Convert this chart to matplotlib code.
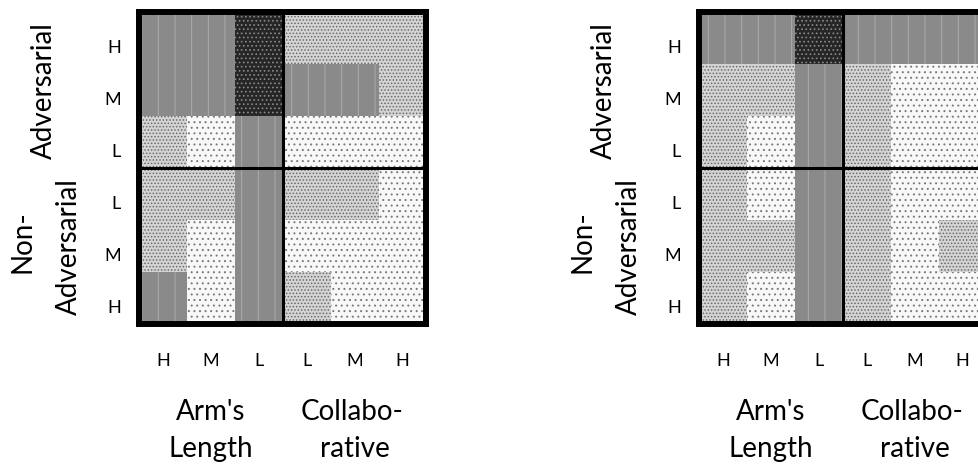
import numpy as np
import matplotlib
matplotlib.use('Agg')
import matplotlib.pyplot as plt
import matplotlib.transforms as mtransforms

plt.rcParams['font.family'] = ['Lato', 'DejaVu Sans']
plt.rcParams['hatch.linewidth'] = 0.7

# Niveis de cada celula (0 = pontos esparsos, 1 = pontos densos,
# 2 = cinza medio, 3 = escuro). Linhas de cima para baixo.
row_labels = ['H', 'M', 'L', 'L', 'M', 'H']
col_labels = ['H', 'M', 'L', 'L', 'M', 'H']

levels_left = [
    [2, 2, 3, 1, 1, 1],
    [2, 2, 3, 2, 2, 1],
    [1, 0, 2, 0, 0, 0],
    [1, 1, 2, 1, 1, 0],
    [1, 0, 2, 0, 0, 0],
    [2, 0, 2, 1, 0, 0],
]

levels_right = [
    [2, 2, 3, 2, 2, 2],
    [1, 1, 2, 1, 0, 0],
    [1, 0, 2, 1, 0, 0],
    [1, 0, 2, 1, 0, 0],
    [1, 1, 2, 1, 0, 1],
    [1, 0, 2, 1, 0, 0],
]

# Estilo de preenchimento por nivel: (cor de fundo, hachura, cor da hachura)
styles = {
    0: ('#f8f8f8', '...', '#7a7a7a'),
    1: ('#d4d4d4', '.....', '#6a6a6a'),
    2: ('#8a8a8a', '|', '#adadad'),
    3: ('#262626', '....', '#8a8a8a'),
}

W, H = 979, 467
fig = plt.figure(figsize=(W / 100, H / 100), dpi=100)


def draw_panel(left_px, levels):
    ax = fig.add_axes([left_px / W, (H - 323.5) / H, 287.5 / W, 312 / H])
    for r, row in enumerate(levels):
        for c, lev in enumerate(row):
            face, hatch, hcol = styles[lev]
            ax.bar(c, 1, bottom=r, width=1, align='edge', color=face,
                   hatch=hatch, edgecolor=hcol, linewidth=0)
    ax.set_xlim(0, 6)
    ax.set_ylim(6, 0)
    # linhas divisorias
    ax.axvline(3, color='black', lw=2.2)
    ax.axhline(3, color='black', lw=2.2)
    for s in ax.spines.values():
        s.set_linewidth(4.3)
        s.set_zorder(5)
    ax.set_xticks(np.arange(6) + 0.5)
    ax.set_xticklabels(col_labels, fontsize=13)
    ax.set_yticks(np.arange(6) + 0.68)
    ax.set_yticklabels(row_labels, fontsize=13)
    ax.tick_params(length=0)
    ax.tick_params(axis='x', pad=21)
    ax.tick_params(axis='y', pad=13)

    kw = dict(fontsize=20, rotation=90, rotation_mode='anchor',
              ha='center', va='baseline', transform=ax.transAxes)
    ax.text(-0.3026, 0.745, 'Adversarial', **kw)
    ax.text(-0.379, 0.261, 'Non-', **kw)
    ax.text(-0.2157, 0.245, 'Adversarial', **kw)

    tr = mtransforms.blended_transform_factory(ax.transData, ax.transAxes)
    kb = dict(fontsize=20, ha='center', va='baseline', transform=tr)
    ax.text(1.5, -0.309, "Arm's", **kb)
    ax.text(1.5, -0.428, 'Length', **kb)
    ax.text(4.45, -0.309, 'Collabo-', **kb)
    ax.text(4.5, -0.428, 'rative', **kb)
    return ax


draw_panel(139, levels_left)
draw_panel(699, levels_right)

fig.savefig('out.png', dpi=100)
